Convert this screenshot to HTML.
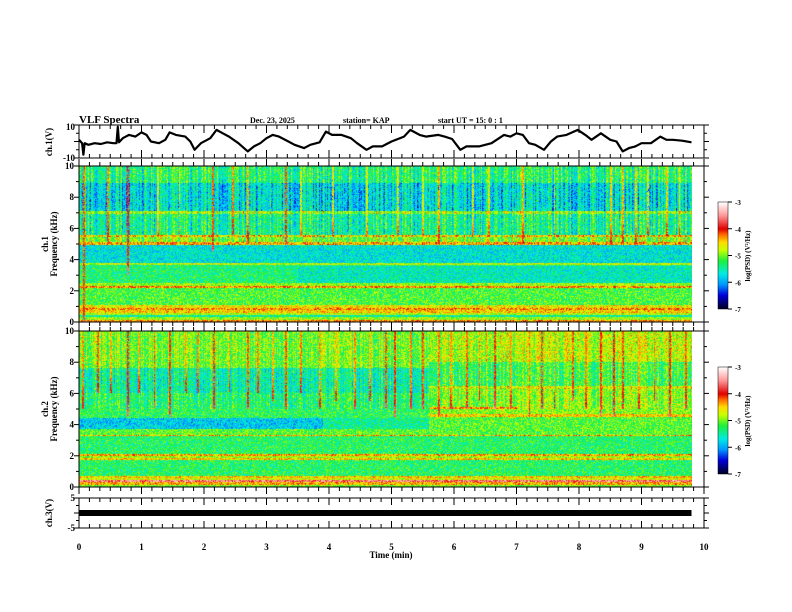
<!DOCTYPE html>
<html><head><meta charset="utf-8">
<style>
html,body{margin:0;padding:0;background:#fff;width:792px;height:612px;overflow:hidden;position:relative}
canvas{position:absolute}
svg{position:absolute;left:0;top:0}
text{font-family:"Liberation Serif",serif;font-weight:bold;fill:#000}
</style></head><body>
<canvas id="spec1" width="613" height="156" style="left:79px;top:166px"></canvas>
<canvas id="spec2" width="613" height="156" style="left:79px;top:331px"></canvas>
<canvas id="cb1" width="10" height="107" style="left:718px;top:202px"></canvas>
<canvas id="cb2" width="10" height="107" style="left:718px;top:367px"></canvas>
<svg id="ax" width="792" height="612"></svg>
<script>
// ---- data ----
const waveT=[0,0.05,0.07,0.09,0.15,0.25,0.35,0.45,0.55,0.6,0.62,0.64,0.7,0.8,0.9,1.0,1.08,1.15,1.28,1.38,1.45,1.55,1.7,1.78,1.85,1.95,2.1,2.2,2.3,2.4,2.55,2.7,2.8,2.9,3.0,3.1,3.2,3.35,3.45,3.6,3.7,3.85,3.95,4.05,4.2,4.35,4.45,4.6,4.7,4.85,5.0,5.2,5.3,5.45,5.55,5.75,5.85,5.97,6.1,6.2,6.4,6.5,6.6,6.8,6.9,7.0,7.1,7.2,7.3,7.44,7.55,7.65,7.8,7.98,8.1,8.2,8.35,8.5,8.6,8.7,8.8,8.9,9.0,9.15,9.3,9.4,9.5,9.65,9.8];
const waveV=[1,-1,-8,-1,-2,-1,-1.5,-0.5,-1,-1,9,-0.5,2,4,3,5.5,4,0,-1,1,5.5,4,3,0,-5,-1,2,7,5,3,-1,-6,-3,-1,2,4,3,0,-2,-4,-2,-0.5,6,4,4,2,-1,-5,-3,-3,0,3,7,4,3,4,3,1.5,-5,-3,-3,-2,-1,4,3,5,4,-1,-2,-5,0,3,4,7,4,1,5,1,0,-6,-4,-3,-1,-1,3,1,1,0.5,-0.5];
const ch3Level=0;
const ch1BandLo=[0,0.15,0.3,0.45,0.6,0.75,0.9,1.1,2.15,2.3,2.5,3.65,3.8,4.95,5.1,5.45,5.6,6.95,7.1,8.9];
const ch1BandHi=[0.15,0.3,0.45,0.6,0.75,0.9,1.1,2.15,2.3,2.5,3.65,3.8,4.95,5.1,5.45,5.6,6.95,7.1,8.9,10];
const ch1BandLv=[-4.3,-4.9,-5.5,-4.8,-4.5,-4.3,-4.6,-5.15,-4.3,-4.9,-5.35,-4.8,-5.7,-4.4,-5.0,-4.5,-5.45,-4.9,-5.75,-5.35];
const ch2BandLo=[0,0.15,0.3,0.42,0.55,0.7,1.75,1.85,2.0,2.1,3.25,3.35,3.7,4.4,5.0,6.0,7.6];
const ch2BandHi=[0.15,0.3,0.42,0.55,0.7,1.75,1.85,2.0,2.1,3.25,3.35,3.7,4.4,5.0,6.0,7.6,10];
const ch2BandLv=[-5.0,-4.4,-3.6,-4.7,-4.5,-5.3,-4.5,-4.9,-4.4,-5.3,-4.4,-5.1,-5.85,-5.25,-5.3,-5.5,-5.0];
const ch2LateStart=5.6;
const ch2LateLo=[3.7,4.5,4.65,5.0,5.12,6.3,6.45,8.0];
const ch2LateHi=[4.5,4.65,5.0,5.12,6.3,6.45,8.0,10];
const ch2LateLv=[-5.1,-4.5,-4.95,-4.2,-4.95,-4.7,-5.2,-4.8];
const ch1SpikeT=[0.07,0.46,0.77,1.25,1.6,2.14,2.45,2.7,3.3,3.55,4.05,4.6,5.1,5.5,5.75,6.3,6.55,7.1,7.6,8.5,8.7,8.9,9.1,9.4,9.6];
const ch1SpikeLv=[-4.2,-4.3,-4.1,-4.7,-4.7,-4.2,-4.3,-4.4,-4.2,-4.7,-4.6,-4.7,-4.6,-4.7,-4.4,-4.7,-4.6,-4.4,-4.7,-4.5,-4.4,-4.5,-4.6,-4.5,-4.6];
const ch1SpikeFmin=[0,5,3,5.5,5.5,4.5,5.5,5,5,5.5,5.5,5.5,5.5,5.5,5,5.5,5.5,5,5.5,5,5,5,5.5,5.5,5.5];
const ch2SpikeT=[0.05,0.3,0.5,0.77,0.95,1.2,1.45,1.7,1.9,2.15,2.4,2.7,2.85,3.1,3.3,3.55,3.85,4.1,4.4,4.65,4.9,5.05,5.3,5.5,5.75,5.95,6.2,6.4,6.65,6.9,7.2,7.4,7.6,7.9,8.1,8.35,8.55,8.7,8.95,9.2,9.45,9.7];
const ch2SpikeLv=[-4.3,-4.2,-4.4,-4.1,-4.4,-4.2,-4.1,-4.4,-4.3,-4.2,-4.4,-4.2,-4.3,-4.4,-4.2,-4.3,-4.4,-4.5,-4.3,-4.4,-4.2,-4.1,-4.3,-4.2,-4.3,-4.4,-4.2,-4.3,-4.1,-4.4,-4.3,-4.2,-4.4,-4.2,-4.3,-4.1,-4.1,-4.2,-4.4,-4.3,-4.1,-4.2];
const ch2SpikeFmin=[5,6,6,4.5,6,5,4.5,6,6,5,6,5,6,5.5,5,6,5,5.5,5,5.5,5,4.5,5,5,4.5,5,5,5.5,5,5,4.5,5,5,5.5,5,4.5,4.5,5,5,5.5,4.5,5];
const xTicks=[0,1,2,3,4,5,6,7,8,9,10];
const fTicks=[0,2,4,6,8,10];
const cbTicks=[-3,-4,-5,-6,-7];

// ---- scales ----
const X0=79,X1=704;
const xs=t=>X0+(t/10)*(X1-X0);
const P={w1:{top:125,bot:158},s1:{top:166,bot:322},s2:{top:331,bot:487},c3:{top:498,bot:528}};
const stops=[[-7,[0,0,40]],[-6.5,[0,0,220]],[-6.1,[0,150,255]],[-5.7,[0,235,230]],[-5.2,[30,240,60]],[-4.8,[200,255,0]],[-4.5,[255,220,0]],[-4.2,[255,100,0]],[-4.0,[225,0,0]],[-3.5,[255,150,150]],[-3,[255,255,255]]];
function cmap(v){if(v<=stops[0][0])return stops[0][1];for(let i=1;i<stops.length;i++){if(v<=stops[i][0]){const a=stops[i-1],b=stops[i],k=(v-a[0])/(b[0]-a[0]);return a[1].map((c,j)=>Math.round(c+(b[1][j]-c)*k));}}return stops[stops.length-1][1];}
function h(a,b){let n=(a*374761393+b*668265263)|0;n=(n^(n>>>13))*1274126177|0;return ((n^(n>>>16))>>>0)/4294967296;}
function band(lo,hi,lv,f){for(let i=0;i<lo.length;i++)if(f>=lo[i]&&f<hi[i])return lv[i];return lv[lv.length-1];}

function drawSpec(id,ch){
  const c=document.getElementById(id),g=c.getContext('2d'),W=c.width,H=c.height,img=g.createImageData(W,H);
  const sT=ch==1?ch1SpikeT:ch2SpikeT,sL=ch==1?ch1SpikeLv:ch2SpikeLv,sF=ch==1?ch1SpikeFmin:ch2SpikeFmin;
  for(let x=0;x<W;x++){
    const t=(x+0.5)/(X1-X0)*10;
    const colOff=(h(x,ch*7)-0.5)*(ch==1?0.9:0.6);
    for(let y=0;y<H;y++){
      const f=(H-y-0.5)/H*10;
      let v=ch==1?band(ch1BandLo,ch1BandHi,ch1BandLv,f):band(ch2BandLo,ch2BandHi,ch2BandLv,f);
      if(ch==2&&t>=ch2LateStart&&f>=3.7){v=band(ch2LateLo,ch2LateHi,ch2LateLv,f);if(f>=5&&f<5.12&&t>7.0)v=-4.9;}
      if(ch==2&&t>3.9&&t<ch2LateStart&&f>=3.7&&f<4.4)v=-5.45;
      if(ch==1&&t>3.5&&f>2.5&&f<3.6)v-=0.25;
      if(f>5)v+=colOff;
      v+=(h(x*131+y,ch)-0.5)*0.8;
      for(let k=0;k<sT.length;k++){
        const sx=(sT[k]/10)*(X1-X0);
        if(Math.abs(x-sx)<1.0&&f>=sF[k]&&h(x+k,y*5)>0.12){const fade=Math.min(1,(f-sF[k])/1.5);const sv=sL[k]+(1-fade)*0.5+(h(x,y*3+k)-0.5)*0.4;if(sv>v)v=sv;}
      }
      const col=cmap(v),o=(y*W+x)*4;
      img.data[o]=col[0];img.data[o+1]=col[1];img.data[o+2]=col[2];img.data[o+3]=255;
    }
  }
  g.putImageData(img,0,0);
}
drawSpec('spec1',1);drawSpec('spec2',2);
['cb1','cb2'].forEach(id=>{const c=document.getElementById(id),g=c.getContext('2d');for(let y=0;y<c.height;y++){const v=-3-(y/(c.height-1))*4;const col=cmap(v);g.fillStyle=`rgb(${col})`;g.fillRect(0,y,c.width,1);}});

// ---- svg axes ----
const NS='http://www.w3.org/2000/svg',svg=document.getElementById('ax');
function el(tag,attrs,parent){const e=document.createElementNS(NS,tag);for(const k in attrs)e.setAttribute(k,attrs[k]);(parent||svg).appendChild(e);return e;}
function line(x1,y1,x2,y2,w){return el('line',{x1,y1,x2,y2,stroke:'#000','stroke-width':w||1});}
function txt(x,y,s,size,anchor,rot){const e=el('text',{x,y,'font-size':size,'text-anchor':anchor||'start'});if(rot)e.setAttribute('transform',`rotate(-90 ${x} ${y})`);e.textContent=s;return e;}

for(const k of ['w1','s1','s2','c3']){const p=P[k];const r=el('rect',{x:X0,y:p.top,width:X1-X0,height:p.bot-p.top,fill:'none',stroke:'#000','stroke-width':1});

}
for(const k of ['w1','s1','s2','c3']){const p=P[k],inward=(k=='w1'||k=='c3');
  for(let i=0;i<=60;i++){const t=i/6,x=xs(t),maj=i%6==0,L=maj?(k=='w1'?8:7):4;
    if(inward){line(x,p.top,x,p.top+L);line(x,p.bot,x,p.bot-L);}
    else{line(x,p.top,x,p.top-L);line(x,p.bot,x,p.bot+L);}}}
function yTicks(p,vmin,vmax,step,minor){for(let v=vmin;v<=vmax+1e-9;v+=minor){const y=p.bot-(v-vmin)/(vmax-vmin)*(p.bot-p.top);const maj=Math.abs(v/step-Math.round(v/step))<1e-6;const L=maj?5:3;line(X0-L,y,X0,y);line(X1,y,X1+L,y);}}
yTicks(P.w1,-10,10,10,5);yTicks(P.s1,0,10,2,1);yTicks(P.s2,0,10,2,1);yTicks(P.c3,-5,5,5,2.5);
let d='';for(let i=0;i<waveT.length;i++){const y=(P.w1.top+P.w1.bot)/2-waveV[i]/10*((P.w1.bot-P.w1.top)/2);d+=(i?'L':'M')+xs(waveT[i]).toFixed(1)+','+y.toFixed(1);}
const wl=el('path',{d,fill:'none',stroke:'#000','stroke-width':2.2,'stroke-linejoin':'round'});


const c3y=(P.c3.top+P.c3.bot)/2-ch3Level/5*((P.c3.bot-P.c3.top)/2);
const bar=el('rect',{x:X0,y:c3y-3,width:xs(9.8)-X0,height:6,fill:'#000'});


txt(75,130,'10',9,'end');txt(75,161,'-10',9,'end');
fTicks.forEach(v=>{txt(74,P.s1.bot-v/10*(P.s1.bot-P.s1.top)+3,String(v),9,'end');txt(74,P.s2.bot-v/10*(P.s2.bot-P.s2.top)+3,String(v),9,'end');});
txt(75,501,'5',9,'end');txt(75,531,'-5',9,'end');
xTicks.forEach(v=>{const e=txt(xs(v),550,String(v),9,'middle');});
const xt=txt(391,558,'Time  (min)',9,'middle');
txt(52,142,'ch.1(V)',9,'middle',true);
txt(48,244,'ch.1',9,'middle',true);txt(57,244,'Frequency (kHz)',9,'middle',true);
txt(48,409,'ch.2',9,'middle',true);txt(57,409,'Frequency (kHz)',9,'middle',true);
txt(52,513,'ch.3(V)',9,'middle',true);
const tt=txt(79,123,'VLF Spectra',11,'start');
txt(250,123,'Dec. 23, 2025',8,'start');txt(343,123,'station= KAP',8,'start');txt(438,123,'start  UT  =   15: 0  : 1',8,'start');
[[202,'cb1'],[367,'cb2']].forEach(([top,id])=>{
  el('rect',{x:718,y:top,width:10,height:107,fill:'none',stroke:'#000','stroke-width':0.5});
  cbTicks.forEach((v,i)=>{const y=top+(-3-v)/4*107;line(728,y,732,y);txt(735,y+3,String(v),7,'start');});
  const lb=txt(750,top+54,'log(PSD) (V²/Hz)',7,'middle',true);
  
});
</script>
</body></html>
